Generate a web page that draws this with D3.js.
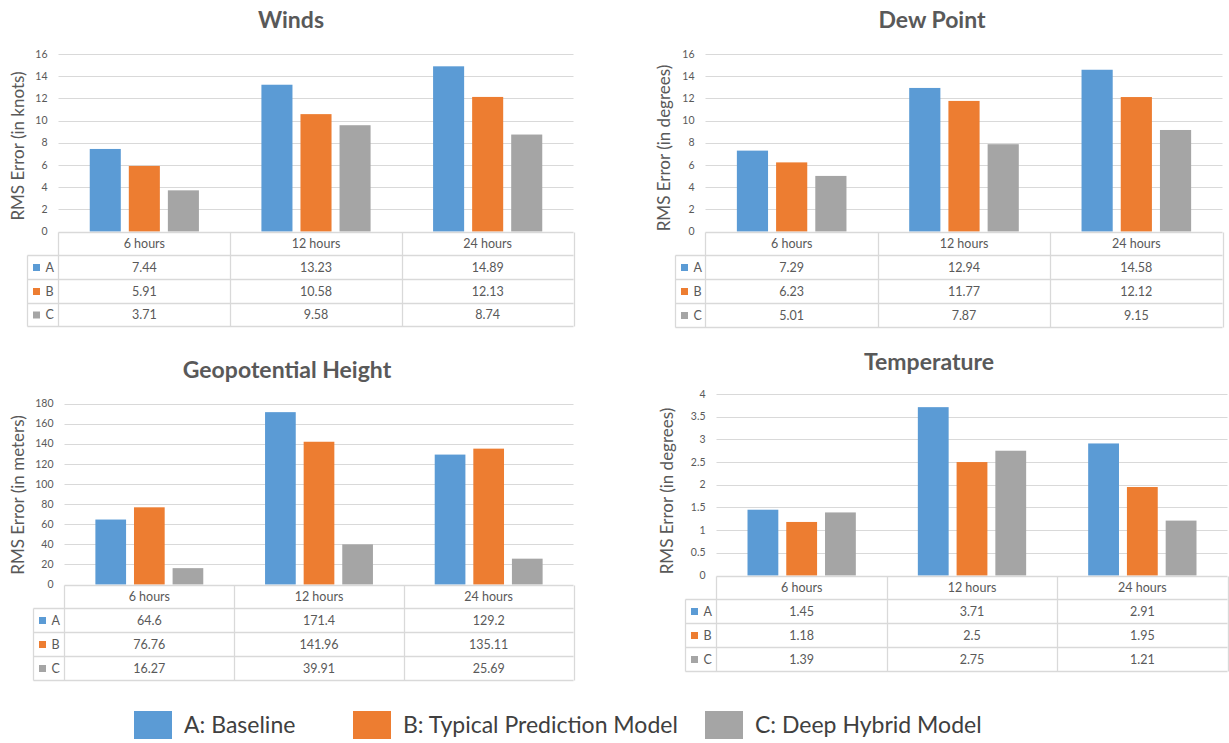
<!DOCTYPE html>
<html>
<head>
<meta charset="utf-8">
<script src="https://cdn.jsdelivr.net/npm/d3@7"></script>
<style>
  html, body { margin: 0; padding: 0; background: #fff; }
  svg { display: block; }
  text { font-family: Lato, "Open Sans", sans-serif; }
</style>
</head>
<body>
<svg id="chart" width="1229" height="743"></svg>
<script>
// ---------------- DATA ----------------
const categories = ["6 hours", "12 hours", "24 hours"];
const seriesKeys = ["A", "B", "C"];
const seriesNames = ["A: Baseline", "B: Typical Prediction Model", "C: Deep Hybrid Model"];
const seriesColors = ["#5B9BD5", "#ED7D31", "#A5A5A5"];

const windsA = [7.44, 13.23, 14.89];
const windsB = [5.91, 10.58, 12.13];
const windsC = [3.71, 9.58, 8.74];
const windsTicks = [0, 2, 4, 6, 8, 10, 12, 14, 16];

const dewA = [7.29, 12.94, 14.58];
const dewB = [6.23, 11.77, 12.12];
const dewC = [5.01, 7.87, 9.15];
const dewTicks = [0, 2, 4, 6, 8, 10, 12, 14, 16];

const geoA = [64.6, 171.4, 129.2];
const geoB = [76.76, 141.96, 135.11];
const geoC = [16.27, 39.91, 25.69];
const geoTicks = [0, 20, 40, 60, 80, 100, 120, 140, 160, 180];

const tempA = [1.45, 3.71, 2.91];
const tempB = [1.18, 2.5, 1.95];
const tempC = [1.39, 2.75, 1.21];
const tempTicks = [0, 0.5, 1, 1.5, 2, 2.5, 3, 3.5, 4];

// ---------------- LAYOUT ----------------
const panels = [
  { title: "Winds", yTitle: "RMS Error (in knots)", series: [windsA, windsB, windsC], ticks: windsTicks,
    titleX: 291, titleY: 20, yTitleX: 18, yTitleY: 146,
    left: 58.5, right: 573.5, top: 54, zero: 231.5, tableLeft: 27.5, rowH: 23.7 },
  { title: "Dew Point", yTitle: "RMS Error (in degrees)", series: [dewA, dewB, dewC], ticks: dewTicks,
    titleX: 932, titleY: 20, yTitleX: 664, yTitleY: 148,
    left: 705.5, right: 1222.5, top: 54, zero: 231.5, tableLeft: 675.5, rowH: 23.8 },
  { title: "Geopotential Height", yTitle: "RMS Error (in meters)", series: [geoA, geoB, geoC], ticks: geoTicks,
    titleX: 287, titleY: 370, yTitleX: 18, yTitleY: 495,
    left: 64.5, right: 573.5, top: 403.5, zero: 584.5, tableLeft: 33.5, rowH: 23.9 },
  { title: "Temperature", yTitle: "RMS Error (in degrees)", series: [tempA, tempB, tempC], ticks: tempTicks,
    titleX: 929, titleY: 362, yTitleX: 667, yTitleY: 491,
    left: 716.5, right: 1227.5, top: 394, zero: 575.5, tableLeft: 685.5, rowH: 23.8 }
];

const svg = d3.select("#chart");
const gridColor = "#d9d9d9";
const textColor = "#595959";

function drawPanel(p) {
  const g = svg.append("g");
  const x0 = d3.scaleBand().domain(categories).range([p.left, p.right]).paddingInner(0).paddingOuter(0);
  const x1 = d3.scaleBand().domain(seriesKeys).range([0, x0.bandwidth()]).paddingInner(0.205).paddingOuter(0.8);
  const y = d3.scaleLinear().domain([0, d3.max(p.ticks)]).range([p.zero, p.top]);

  // gridlines
  g.selectAll("line.grid").data(p.ticks.filter(t => t > 0)).join("line")
    .attr("x1", p.left).attr("x2", p.right)
    .attr("y1", d => Math.round(y(d)) + 0.5).attr("y2", d => Math.round(y(d)) + 0.5)
    .attr("stroke", gridColor).attr("stroke-width", 1.2);

  // tick labels
  g.selectAll("text.tick").data(p.ticks).join("text")
    .attr("x", p.left - 11).attr("y", d => y(d)).attr("dy", "0.35em")
    .attr("text-anchor", "end").attr("font-size", 10.5).attr("fill", textColor)
    .text(d => String(d));

  // bars
  seriesKeys.forEach((k, si) => {
    g.selectAll("rect.bar" + k).data(p.series[si]).join("rect")
      .attr("x", (d, i) => x0(categories[i]) + x1(k))
      .attr("width", x1.bandwidth())
      .attr("y", d => y(d))
      .attr("height", d => y(0) - y(d))
      .attr("fill", seriesColors[si]);
  });

  // title
  g.append("text").attr("x", p.titleX).attr("y", p.titleY).attr("dy", "0.35em")
    .attr("text-anchor", "middle").attr("font-size", 23).attr("font-weight", "bold")
    .attr("fill", textColor).text(p.title);

  // y title
  g.append("text").attr("transform", `translate(${p.yTitleX},${p.yTitleY}) rotate(-90)`)
    .attr("dy", "0.35em").attr("text-anchor", "middle").attr("font-size", 17)
    .attr("fill", textColor).text(p.yTitle);

  // table
  const rows = [0, 1, 2, 3, 4].map(i => Math.round(p.zero + i * p.rowH) + 0.5);
  const bottom = rows[4];
  const tl = g.append("g").attr("stroke", gridColor).attr("stroke-width", 1.3);
  tl.append("line").attr("x1", p.left).attr("x2", p.right).attr("y1", rows[0]).attr("y2", rows[0]);
  rows.slice(1).forEach(r => tl.append("line").attr("x1", p.tableLeft).attr("x2", p.right).attr("y1", r).attr("y2", r));
  const vx = [p.left].concat(categories.map(c => Math.round(x0(c) + x0.bandwidth()) + 0.5));
  vx.forEach(v => tl.append("line").attr("x1", v).attr("x2", v).attr("y1", rows[0]).attr("y2", bottom));
  tl.append("line").attr("x1", p.tableLeft).attr("x2", p.tableLeft).attr("y1", rows[1]).attr("y2", bottom);

  // header labels
  g.selectAll("text.head").data(categories).join("text")
    .attr("x", d => x0(d) + x0.bandwidth() / 2).attr("y", (rows[0] + rows[1]) / 2).attr("dy", "0.35em")
    .attr("text-anchor", "middle").attr("font-size", 12.5).attr("fill", textColor).text(d => d);

  // rows
  seriesKeys.forEach((k, si) => {
    const cy = (rows[si + 1] + rows[si + 2]) / 2;
    g.append("rect").attr("x", p.tableLeft + 5.5).attr("y", cy - 3.5).attr("width", 7).attr("height", 7)
      .attr("fill", seriesColors[si]);
    g.append("text").attr("x", p.tableLeft + 18).attr("y", cy).attr("dy", "0.35em")
      .attr("font-size", 12.5).attr("fill", textColor).text(k);
    g.selectAll("text.val" + k).data(p.series[si]).join("text")
      .attr("x", (d, i) => x0(categories[i]) + x0.bandwidth() / 2).attr("y", cy).attr("dy", "0.35em")
      .attr("text-anchor", "middle").attr("font-size", 12.5).attr("fill", textColor)
      .text(d => String(d));
  });
}

panels.forEach(drawPanel);

// ---------------- LEGEND ----------------
const legendX = [134, 353, 705];
const lg = svg.append("g");
seriesNames.forEach((name, i) => {
  lg.append("rect").attr("x", legendX[i]).attr("y", 711).attr("width", 38).attr("height", 28)
    .attr("fill", seriesColors[i]);
  lg.append("text").attr("x", legendX[i] + 50).attr("y", 725).attr("dy", "0.35em")
    .attr("font-size", 23).attr("fill", "#404040").text(name);
});
</script>
</body>
</html>
